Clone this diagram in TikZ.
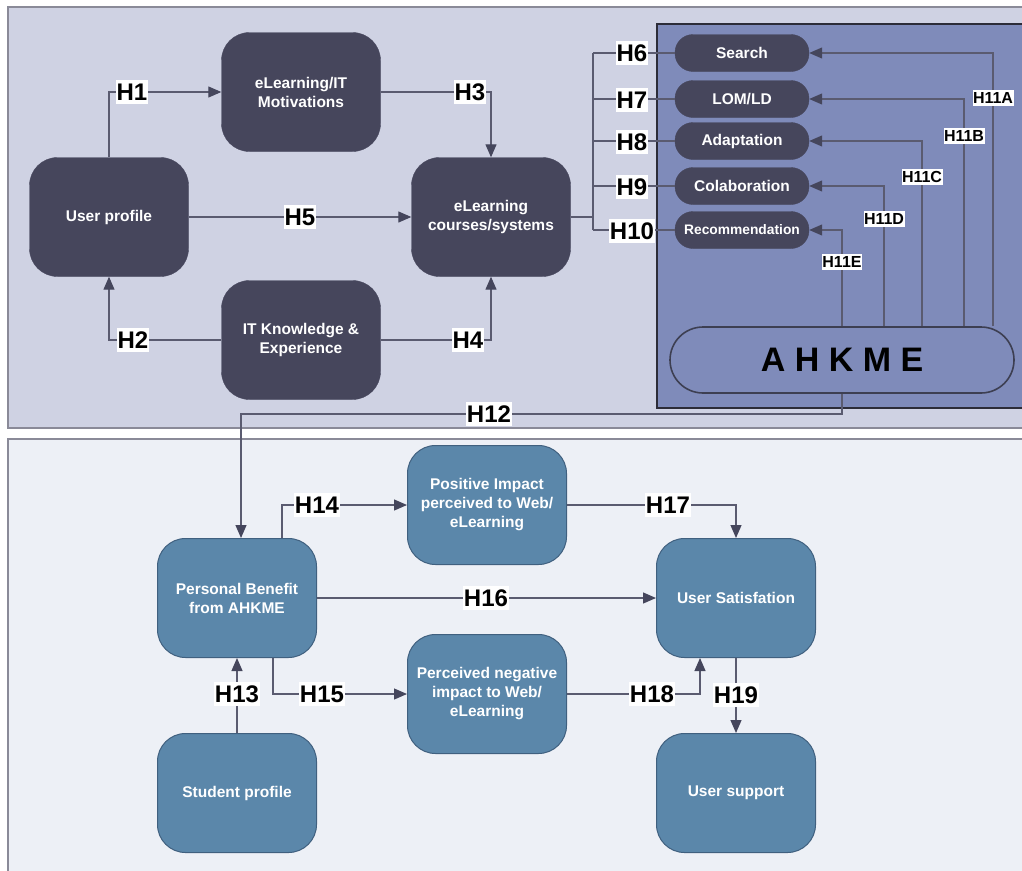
\documentclass[tikz,border=0pt]{standalone}
\usepackage{fontspec}
\setmainfont{Liberation Sans}
\usetikzlibrary{arrows.meta}

\definecolor{toppanel}{HTML}{CFD2E3}
\definecolor{botpanel}{HTML}{EDF0F6}
\definecolor{paneledge}{HTML}{8A8A98}
\definecolor{ahkpanel}{HTML}{7F8BBA}
\definecolor{ahkedge}{HTML}{2C2C38}
\definecolor{darknode}{HTML}{46465C}
\definecolor{bluenode}{HTML}{5B87AA}
\definecolor{blueedge}{HTML}{40607F}
\definecolor{linecol}{HTML}{5A5B70}
\definecolor{arrowcol}{HTML}{45465C}

\tikzset{
  darkbox/.style={rectangle, rounded corners=28pt, fill=darknode, draw=darknode,
    minimum width=159pt, minimum height=119pt, text=white, align=center, inner sep=2pt,
    font=\bfseries\fontsize{15.5}{19}\selectfont},
  bluebox/.style={darkbox, fill=bluenode, draw=blueedge, line width=1pt},
  pill/.style={rectangle, rounded corners=18pt, fill=darknode, draw=darknode,
    minimum width=134pt, minimum height=37pt, text=white, inner sep=1pt,
    font=\bfseries\fontsize{15.5}{18}\selectfont},
  hlab/.style={fill=white, text=black, inner xsep=0.5pt, inner ysep=3.5pt,
    font=\bfseries\fontsize{24}{24}\selectfont},
  hsmall/.style={hlab, inner ysep=2pt, font=\bfseries\fontsize{16}{16}\selectfont},
  link/.style={draw=linecol, line width=1.2pt},
  arr/.style={link, -{Triangle[length=13pt,width=11pt,fill=arrowcol,color=arrowcol]}},
}

\begin{document}
\begin{tikzpicture}[x=1pt,y=-1pt]
\useasboundingbox (0,0) rectangle (1022,870);
\clip (0,0) rectangle (1022,870);

% background panels
\fill[white] (0,0) rectangle (1022,870);
\fill[toppanel] (8,7) rectangle (1030,428);
\draw[paneledge, line width=1.6pt] (1030,7) -- (8,7) -- (8,428) -- (1030,428);
\fill[botpanel] (8,439) rectangle (1030,880);
\draw[paneledge, line width=1.6pt] (1030,439) -- (8,439) -- (8,880);
\fill[ahkpanel] (657,24) rectangle (1030,408);
\draw[ahkedge, line width=1.4pt] (1030,24) -- (657,24) -- (657,408) -- (1030,408);

% upper model
\node[darkbox] (up)  at (109,217) {User profile};
\node[darkbox] (mot) at (301,92)  {eLearning/IT\\Motivations};
\node[darkbox] (crs) at (491,217) {eLearning\\courses/systems};
\node[darkbox] (itk) at (301,340) {IT Knowledge \&\\Experience};

% AHKME features
\node[pill] (srch) at (742,53)  {Search};
\node[pill] (lom)  at (742,99)  {LOM/LD};
\node[pill] (adp)  at (742,141) {Adaptation};
\node[pill] (col)  at (742,186) {Colaboration};
\node[pill, font=\bfseries\fontsize{13.8}{16}\selectfont] (rec) at (742,230) {Recommendation};

\node[rectangle, rounded corners=33pt, fill=ahkpanel, draw=ahkedge!80!ahkpanel, line width=1.6pt,
      minimum width=344pt, minimum height=66pt, text=black,
      font=\bfseries\fontsize{34}{34}\selectfont] (ahk) at (842,360) {A H K M E};

% lower model
\node[bluebox] (pb)  at (237,598) {Personal Benefit\\from AHKME};
\node[bluebox] (pos) at (487,505) {Positive Impact\\perceived to Web/\\eLearning};
\node[bluebox] (neg) at (487,694) {Perceived negative\\impact to Web/\\eLearning};
\node[bluebox] (sat) at (736,598) {User Satisfation};
\node[bluebox] (sup) at (736,793) {User support};
\node[bluebox] (sp)  at (237,793) {Student profile};

% connectors, upper model
\draw[arr] (up.north) |- (mot.west);
\draw[arr] (mot.east) -| (crs.north);
\draw[arr] (up.east) -- (crs.west);
\draw[arr] (itk.west) -| (up.south);
\draw[arr] (itk.east) -| (crs.south);

% bus from courses to the features
\coordinate (bus) at (593,217);
\draw[link] (crs.east) -- (bus);
\draw[link] (bus |- srch.west) -- (bus |- rec.west);
\foreach \f in {srch,lom,adp,col,rec} \draw[link] (bus |- \f.west) -- (\f.west);

% AHKME to the features
\coordinate (ca) at (993,0);
\coordinate (cb) at (964,0);
\coordinate (cc) at (922,0);
\coordinate (cd) at (884,0);
\coordinate (ce) at (842,0);
\draw[arr] (ca |- ahk.north) |- (srch.east);
\draw[arr] (cb |- ahk.north) |- (lom.east);
\draw[arr] (cc |- ahk.north) |- (adp.east);
\draw[arr] (cd |- ahk.north) |- (col.east);
\draw[arr] (ce |- ahk.north) |- (rec.east);

% AHKME to the lower model
\coordinate (h12turn) at (241,414);
\draw[arr] (ahk.south) |- (h12turn) -- (h12turn |- pb.north);

% connectors, lower model
\draw[arr] ([xshift=45pt]pb.north) |- (pos.west);
\draw[arr] ([xshift=36pt]pb.south) |- (neg.west);
\draw[arr] (sp.north) -- (pb.south);
\draw[arr] (pb.east) -- (sat.west);
\draw[arr] (pos.east) -| (sat.north);
\draw[arr] (neg.east) -| ([xshift=-36pt]sat.south);
\draw[arr] (sat.south) -- (sup.north);

% hypothesis labels
\node[hlab] (h1)  at (132,92)  {H1};
\node[hlab] (h2)  at (133,340) {H2};
\node[hlab] (h3)  at (470,92)  {H3};
\node[hlab] (h4)  at (468,340) {H4};
\node[hlab] (h5)  at (300,217) {H5};
\node[hlab] (h6)  at (632,53)  {H6};
\node[hlab] (h7)  at (632,100) {H7};
\node[hlab] (h8)  at (632,142) {H8};
\node[hlab] (h9)  at (632,187) {H9};
\node[hlab] (h10) at (632,231) {H10};
\node[hsmall] (h11a) at (993,98)  {H11A};
\node[hsmall] (h11b) at (964,136) {H11B};
\node[hsmall] (h11c) at (922,177) {H11C};
\node[hsmall] (h11d) at (884,219) {H11D};
\node[hsmall] (h11e) at (842,262) {H11E};
\node[hlab] (h12) at (489,414) {H12};
\node[hlab] (h13) at (237,694) {H13};
\node[hlab] (h14) at (317,505) {H14};
\node[hlab] (h15) at (322,694) {H15};
\node[hlab] (h16) at (486,598) {H16};
\node[hlab] (h17) at (668,505) {H17};
\node[hlab] (h18) at (652,694) {H18};
\node[hlab] (h19) at (736,695) {H19};
\end{tikzpicture}
\end{document}
